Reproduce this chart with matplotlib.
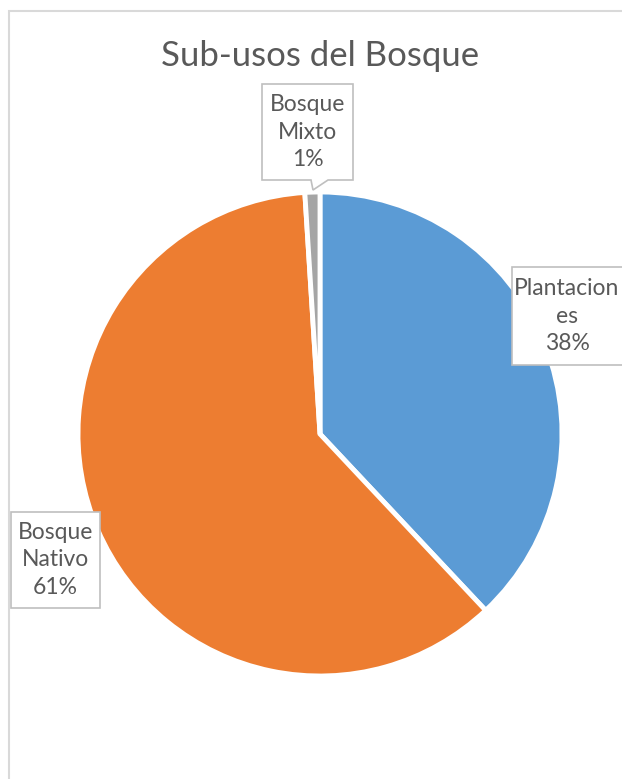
import matplotlib
matplotlib.use("Agg")
import matplotlib.pyplot as plt
from matplotlib.patches import Polygon, Rectangle

# Data
categories = ["Plantaciones", "Bosque Nativo", "Bosque Mixto"]
label_names = ["Plantacion\nes", "Bosque\nNativo", "Bosque\nMixto"]
shares = [38, 61, 1]
colors = ["#5B9BD5", "#ED7D31", "#A5A5A5"]
title = "Sub-usos del Bosque"

W, H = 622, 779
TEXT = "#595959"
FONT = ["Lato", "DejaVu Sans"]

fig = plt.figure(figsize=(W / 100, H / 100), dpi=100)
ax = fig.add_axes([0, 0, 1, 1])


def yy(y):
    # convert a top-down pixel row into the axes' bottom-up coordinate
    return H - y


ax.pie(shares, colors=colors, startangle=90, counterclock=False,
       center=(320, yy(434)), radius=242,
       wedgeprops=dict(edgecolor="white", linewidth=3.5))
ax.set_xlim(0, W)
ax.set_ylim(0, H)
ax.set_aspect("equal")
ax.axis("off")

# chart area border (left and top edges visible)
ax.add_patch(Rectangle((9, yy(H + 20)), W + 40, (H + 20) - 11,
                       fill=False, edgecolor="#D9D9D9", linewidth=1.5, zorder=1))

ax.text(320, yy(56), title, ha="center", va="center", fontsize=25,
        color=TEXT, family=FONT)

labels = [f"{n}\n{p}%" for n, p in zip(label_names, shares)]

# label boxes: (left, top, right, bottom) in pixel rows
boxes = [(512, 267, 640, 365), (11, 512, 100, 608), (262, 84, 353, 180)]

for i, (lab, (l, t, r, b)) in enumerate(zip(labels, boxes)):
    if i == 2:
        pts = [(l, t), (r, t), (r, b), (328, b), (313, 190), (311, b), (l, b)]
    else:
        pts = [(l, t), (r, t), (r, b), (l, b)]
    ax.add_patch(Polygon([(x, yy(y)) for x, y in pts], closed=True,
                         facecolor="white", edgecolor="#BFBFBF",
                         linewidth=1.2, zorder=5))
    cx = 567 if i == 0 else (l + r) / 2
    ax.text(cx, yy((t + b) / 2), lab, ha="center", va="center",
            fontsize=16.5, color=TEXT, family=FONT, linespacing=1.38,
            zorder=6)

fig.savefig("out.png", dpi=100)
